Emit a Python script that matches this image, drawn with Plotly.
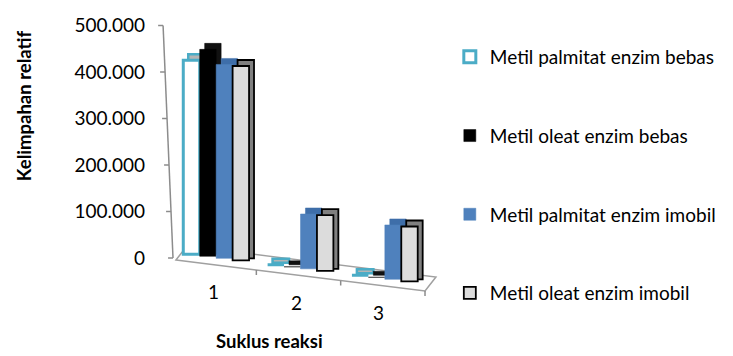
import plotly.graph_objects as go

# ---- data -------------------------------------------------------------
cycles = ["1", "2", "3"]
series_names = [
    "Metil palmitat enzim bebas",
    "Metil oleat enzim bebas",
    "Metil palmitat enzim imobil",
    "Metil oleat enzim imobil",
]
palmitat_bebas = [417000, 0, 0]
oleat_bebas = [445000, 0, 0]
palmitat_imobil = [417000, 118000, 117000]
oleat_imobil = [418000, 120000, 118000]
y_tick_vals = [0, 100000, 200000, 300000, 400000, 500000]
y_tick_text = ["0", "100.000", "200.000", "300.000", "400.000", "500.000"]

series_values = [palmitat_bebas, oleat_bebas, palmitat_imobil, oleat_imobil]

# ---- styling per series: front face, outline, depth (top/side) face ----
styles = [
    dict(front="#ffffff", line="#4bacc6", lw=3, depth="#b4b4b4", dline="#4bacc6", dlw=2.5),
    dict(front="#000000", line="#000000", lw=0.5, depth="#111111", dline="#000000", dlw=0.5),
    dict(front="#4f81bd", line="#4f81bd", lw=0.5, depth="#3e6ea9", dline="#3e6ea9", dlw=0.5),
    dict(front="#dcdcdc", line="#000000", lw=1.8, depth="#808080", dline="#000000", dlw=1.8),
]

# ---- page geometry (pixels) ---------------------------------------------
W, H = 733, 356
PL, PR, PT, PB = 174, 429, 23, 320          # plot-area edges
X_RANGE = [0.5, 3.5]
PX_PER_UNIT = (PR - PL) / (X_RANGE[1] - X_RANGE[0])
ZERO_PX = 258                                # pixel row of value 0 on the wall
PX_PER_VAL = 46.5 / 100000                   # vertical scale
Y_RANGE = [(ZERO_PX - PB) / PX_PER_VAL, (ZERO_PX - PT) / PX_PER_VAL]

FLOOR_SLOPE = 0.1235                         # perspective slope of the floor
BAR_W = 0.195                                # bar width in category units
DEPTH_DX = 5 / PX_PER_UNIT                   # 3-D depth shift, horizontal
DEPTH_DY = 6 / PX_PER_VAL                    # 3-D depth shift, vertical
FONT = "Lato"


def px_x(u):
    """data x -> pixel column"""
    return PL + (u - X_RANGE[0]) * PX_PER_UNIT


def paper_x(px):
    return (px - PL) / (PR - PL)


def paper_y(py):
    return (PB - py) / (PB - PT)


def floor_base(u):
    """value at which the receding floor sits below data position u"""
    py = 253 + FLOOR_SLOPE * (px_x(u) - 181.5)
    return (ZERO_PX - py) / PX_PER_VAL


def front_edge_y(px):
    return 260 + FLOOR_SLOPE * (px - 176)


x_pos = list(range(1, len(cycles) + 1))
n = len(series_values)
offsets = [-n * BAR_W / 2 + j * BAR_W for j in range(n)]

fig = go.Figure()

# depth faces first, so the front faces overlap them
for j, vals in enumerate(series_values):
    st = styles[j]
    bases = [floor_base(x + offsets[j] + BAR_W / 2) + DEPTH_DY / 3 for x in x_pos]
    fig.add_trace(go.Bar(
        x=x_pos, y=[v + DEPTH_DY * 2 / 3 for v in vals], base=bases,
        offset=offsets[j] + DEPTH_DX, width=BAR_W,
        marker=dict(color=st["depth"], line=dict(color=st["dline"], width=st["dlw"])),
        showlegend=False, hoverinfo="skip",
    ))

# front faces (these carry the legend)
for j, vals in enumerate(series_values):
    st = styles[j]
    bases = [floor_base(x + offsets[j] + BAR_W / 2) for x in x_pos]
    fig.add_trace(go.Bar(
        x=x_pos, y=vals, base=bases,
        offset=offsets[j], width=BAR_W,
        name=series_names[j], legendgroup=series_names[j],
        marker=dict(color=st["front"], line=dict(color=st["line"], width=st["lw"])),
    ))

shapes = []
axis_col = "#8c8c8c"

# floor slab
fl = [(176, 260), (427, front_edge_y(427)), (438, 277), (187, 246)]
path = "M " + " L ".join(f"{paper_x(a):.4f},{paper_y(b):.4f}" for a, b in fl) + " Z"
shapes.append(dict(type="path", path=path, xref="paper", yref="paper",
                   fillcolor="white", line=dict(color="#a0a0a0", width=1.5), layer="below"))


# slanted value axis on the wall, with tick marks
def wall_x(v):
    return 173 - 10 * v / 500000


shapes.append(dict(type="line", xref="paper", yref="y",
                   x0=paper_x(wall_x(0)), y0=0, x1=paper_x(wall_x(500000)), y1=500000,
                   line=dict(color=axis_col, width=1.5), layer="below"))
for v in y_tick_vals:
    shapes.append(dict(type="line", xref="paper", yref="y",
                       x0=paper_x(wall_x(v) - 5), y0=v, x1=paper_x(wall_x(v)), y1=v,
                       line=dict(color=axis_col, width=1.5), layer="below"))

# category dividers along the front edge of the floor
for b in [1.5, 2.5, 3.5]:
    bx = px_x(b) - 2
    by = front_edge_y(bx)
    shapes.append(dict(type="line", xref="paper", yref="paper",
                       x0=paper_x(bx), y0=paper_y(by), x1=paper_x(bx), y1=paper_y(by + 5),
                       line=dict(color=axis_col, width=1.5), layer="below"))

annotations = []
for x, lab in zip(x_pos, cycles):
    cx = px_x(x) - 3
    annotations.append(dict(text=lab, x=x, xref="x", xshift=-3 - (x - 1) * 1.5,
                            xanchor="center", yanchor="middle",
                            y=paper_y(front_edge_y(cx) + 27), yref="paper",
                            showarrow=False, font=dict(family=FONT, size=19, color="#000000")))

annotations.append(dict(text="<b>Suklus reaksi</b>", x=paper_x(270), y=paper_y(341),
                        xref="paper", yref="paper", xanchor="center", yanchor="middle",
                        showarrow=False, font=dict(family=FONT, size=18.5, color="#000000")))
annotations.append(dict(text="<b>Kelimpahan relatif</b>", x=paper_x(23), y=paper_y(106),
                        xref="paper", yref="paper", xanchor="center", yanchor="middle",
                        showarrow=False, textangle=-90,
                        font=dict(family=FONT, size=18.5, color="#000000")))

fig.update_layout(
    width=W, height=H,
    margin=dict(l=PL, r=W - PR, t=PT, b=H - PB),
    plot_bgcolor="white", paper_bgcolor="white",
    barmode="overlay",
    showlegend=True,
    legend=dict(x=paper_x(452), xanchor="left", y=paper_y(38), yanchor="top",
                traceorder="grouped", tracegroupgap=51,
                font=dict(family=FONT, size=19, color="#000000"),
                bgcolor="rgba(0,0,0,0)"),
    xaxis=dict(range=X_RANGE, visible=False),
    yaxis=dict(range=Y_RANGE, tickvals=y_tick_vals, ticktext=y_tick_text,
               showgrid=False, zeroline=False, showline=False, ticks="",
               ticklabelstandoff=28,
               tickfont=dict(family=FONT, size=19, color="#000000")),
    shapes=shapes,
    annotations=annotations,
)

fig.write_html("out.html")
